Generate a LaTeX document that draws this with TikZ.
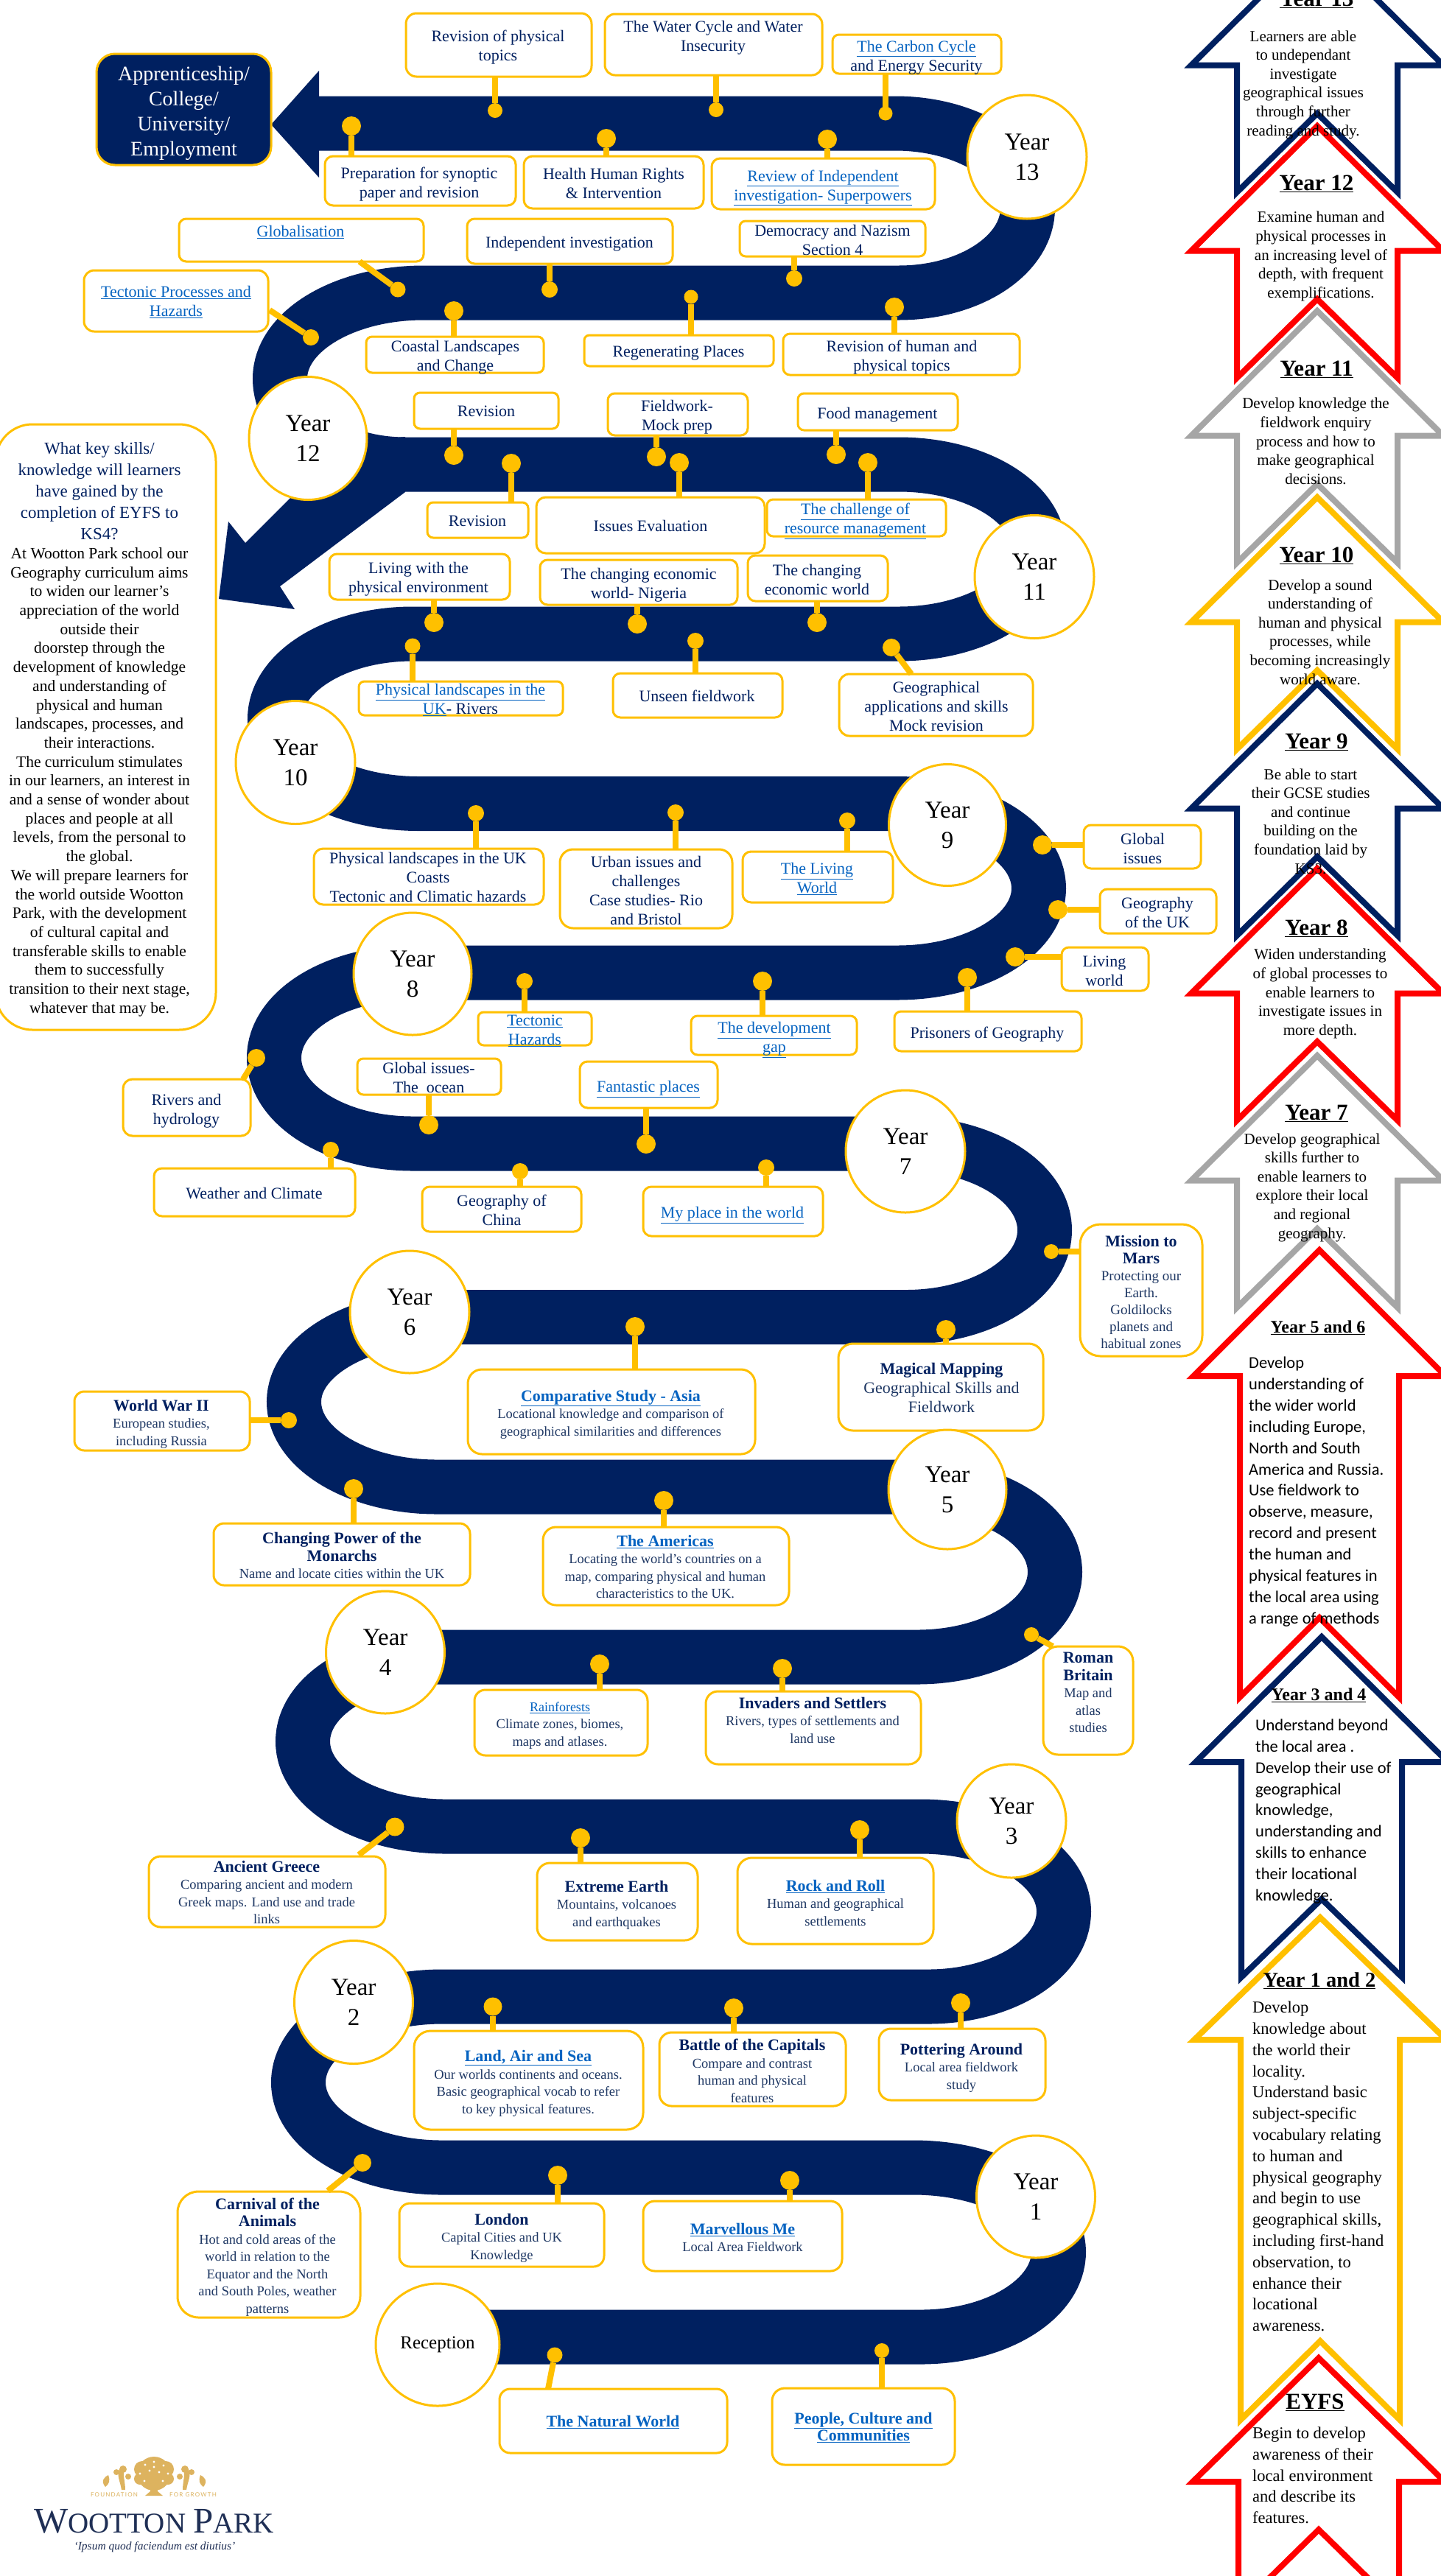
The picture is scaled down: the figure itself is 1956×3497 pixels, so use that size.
\documentclass[tikz,border=0pt]{standalone}
\usepackage{fontspec}
\setmainfont{Liberation Serif}
\newfontfamily\bodysans{Carlito}
\newfontfamily\logosans[LetterSpace=15]{Lato}
\usetikzlibrary{shapes.geometric,calc}
\definecolor{navy}{HTML}{002060}
\definecolor{gold}{HTML}{FFC000}
\definecolor{linkb}{HTML}{0563C1}
\definecolor{subc}{HTML}{1F3864}
\definecolor{grayarr}{HTML}{A6A6A6}
\definecolor{logog}{HTML}{DDB35F}
\definecolor{logon}{HTML}{1F2F55}
% fonts
\newcommand{\fA}{\fontsize{22}{26}\selectfont\color{navy}}
\newcommand{\fS}{\fontsize{18.5}{23.5}\selectfont\color{subc}}
\newcommand{\fM}{\fontsize{19}{23}\selectfont\color{subc}}
\newcommand{\hh}[1]{{\fontsize{22}{24}\selectfont\bfseries\color{navy}#1}}
\newcommand{\lk}[1]{{\color{linkb}\underline{#1}}}
\newcommand{\lkb}[1]{{\fontsize{22}{24}\selectfont\bfseries\color{linkb}\underline{#1}}}
\newcommand{\lks}[1]{{\fontsize{18}{23}\selectfont\color{linkb}\underline{#1}}}
\newcommand{\ttl}[1]{{\fontsize{23}{29}\selectfont\color{navy}#1}}
% text block placed inside a box node, offset from its centre
\newcommand{\tb}[4]{{#3\raisebox{\dimexpr #2pt-.35em}[0pt][0pt]{\makebox[0pt]{\hspace*{#1pt}\hspace*{#1pt}\begin{tabular}[c]{@{}c@{}}#4\end{tabular}}}}}
\newcommand{\bx}[9]{%
 \pgfmathsetmacro{\bxw}{#4-#2}\pgfmathsetmacro{\bxh}{#5-#3}%
 \pgfmathsetmacro{\bxr}{min(\bxw,\bxh)/6}%
 \pgfmathsetmacro{\bxcx}{(#2+#4)/2}\pgfmathsetmacro{\bxcy}{(#3+#5)/2}%
 \pgfmathsetmacro{\bxdx}{#6-\bxcx}\pgfmathsetmacro{\bxdy}{\bxcy-#7}%
 \node[boxn,minimum width=\bxw pt,minimum height=\bxh pt,rounded corners=\bxr pt] (#1) at (\bxcx,\bxcy) {\tb{\bxdx}{\bxdy}{#8}{#9}};}
\newcommand{\pn}[4]{\node[pinn,minimum size=#4pt] (#1) at (#2,#3) {};}
\newcommand{\yr}[6]{\node[yearn,minimum width=#4pt,minimum height=#5pt] (#1) at (#2,#3) {#6};}
% half-ellipse turn of the ribbon: start x,y / peak x,y / end x,y
\def\uT#1#2#3#4#5#6{ .. controls ({#1+.5523*(#3-#1)},#2) and (#3,{#4-.5523*(#4-#2)}) .. (#3,#4) .. controls (#3,{#4+.5523*(#6-#4)}) and ({#5+.5523*(#3-#5)},#6) .. (#5,#6)}
% up arrow outline: colour cx ya wing notch bottom halfstem
\newcommand{\upar}[7]{\draw[arrn,draw=#1] (#2,#3+6) -- (#2+171,#3+#4) -- (#2+#7,#3+#4) -- (#2+#7,#3+#6) -- (#2,#3+#5) -- (#2-#7,#3+#6) -- (#2-#7,#3+#4) -- (#2-171,#3+#4) -- cycle;}
\tikzset{
 boxn/.style={draw=gold,line width=3pt,fill=white,inner sep=0pt,outer sep=0pt},
 pinn/.style={circle,fill=gold,inner sep=0pt,outer sep=0pt},
 conn/.style={draw=gold,line width=8pt},
 yearn/.style={ellipse,draw=gold,line width=3pt,fill=white,inner sep=0pt,align=center,text=black,font=\fontsize{33}{41}\selectfont},
 band/.style={draw=navy,line width=74pt,line cap=butt},
 arrn/.style={line width=8pt,fill=none,miter limit=20},
 ahd/.style={inner sep=0pt,yshift=-2pt,text=black,font=\fontsize{31}{34}\selectfont\bfseries},
 ahs/.style={inner sep=0pt,yshift=-2pt,text=black,font=\fontsize{24}{27}\selectfont\bfseries},
 atx/.style={inner sep=0pt,yshift=-2pt,text=black,align=center,font=\fontsize{21}{25.6}\selectfont},
 als/.style={inner sep=0pt,yshift=-2pt,text=black,align=left,anchor=west,font=\bodysans\fontsize{22.5}{28.9}\selectfont},
 alt/.style={inner sep=0pt,yshift=-2pt,text=black,align=left,anchor=west,font=\fontsize{22.5}{28.8}\selectfont},
 logot/.style={inner sep=0pt,text=logon},
}
\begin{document}
\begin{tikzpicture}[x=1pt,y=-1pt]
\useasboundingbox (0,0) rectangle (1956,3497);
\clip (0,0) rectangle (1956,3497);
\fill[white] (0,0) rectangle (1956,3497);
% ---------- ribbon
\draw[band] (594,3172.5) -- (1250,3172.5) \uT{1250}{3172.5}{1437}{3057}{1240}{2942.5}
 -- (600,2942.5) \uT{600}{2942.5}{405}{2827}{600}{2710.5}
 -- (1260,2710.5) \uT{1260}{2710.5}{1444}{2595}{1250}{2479.5}
 -- (605,2479.5) \uT{605}{2479.5}{411}{2364}{600}{2249.5}
 -- (1245,2249.5) \uT{1245}{2249.5}{1432}{2134}{1245}{2018.5}
 -- (593,2018.5) \uT{593}{2018.5}{399}{1903}{600}{1788}
 -- (1230,1788) \uT{1230}{1788}{1418}{1670}{1230}{1552.5}
 -- (560,1552.5) \uT{560}{1552.5}{372}{1436}{560}{1320.5}
 -- (1218,1320.5) \uT{1218}{1320.5}{1410}{1206}{1218}{1091}
 -- (568,1091) \uT{568}{1091}{373}{976}{560}{860.5}
 -- (1220,860.5) \uT{1220}{860.5}{1410}{745.5}{1220}{630.5}
 -- (550,630.5) \uT{550}{630.5}{380}{514}{575}{397.5}
 -- (1220,397.5) \uT{1220}{397.5}{1395}{282.5}{1215}{167.5}
 -- (433,167.5);
\fill[navy] (433,96) -- (368,169) -- (433,241) -- cycle;
\fill[navy] (550,668) -- (380,796) -- (400,827) -- (297,813) -- (310,708) -- (333,737) -- (470,600) -- (550,593) -- cycle;
% ---------- pins
\pn{p1}{672}{150}{20}\pn{p2}{972}{149}{20}\pn{p3}{1202}{154}{19}
\pn{p4}{477}{171}{26}\pn{p5}{823}{188}{26}\pn{p6}{1123}{189}{26}
\pn{p7}{540}{393}{21}\pn{p8}{746}{393}{22}\pn{p9}{1078}{378}{22}
\pn{p10}{422}{458}{22}\pn{p11}{616}{422}{26}\pn{p12}{938}{403}{19}\pn{p13}{1214}{417}{26}
\pn{p14}{616}{618}{26}\pn{p15}{891}{620}{26}\pn{p16}{1135}{617}{26}
\pn{p17}{694}{629}{26}\pn{p18}{922}{628}{26}\pn{p19}{1178}{628}{26}
\pn{p20}{589}{845}{26}\pn{p21}{865}{847}{26}\pn{p22}{1109}{845}{26}
\pn{p23}{560}{877}{21}\pn{p24}{944}{870}{22}\pn{p25}{1210}{879}{24}
\pn{p26}{646}{1104}{22}\pn{p27}{917}{1103}{22}\pn{p28}{1150}{1114}{22}
\pn{p29}{1415}{1147}{26}\pn{p30}{1436}{1235}{26}\pn{p31}{1378}{1299}{26}
\pn{p32}{1313}{1327}{26}\pn{p33}{1035}{1332}{26}\pn{p34}{712}{1332}{22}
\pn{p35}{348}{1436}{24}\pn{p36}{449}{1561}{22}\pn{p37}{582}{1527}{26}\pn{p38}{877}{1553}{26}
\pn{p39}{706}{1590}{22}\pn{p40}{1040}{1585}{22}\pn{p41}{1427}{1699}{20}
\pn{p42}{862}{1801}{26}\pn{p43}{1284}{1805}{26}\pn{p44}{392}{1928}{22}
\pn{p45}{480}{2021}{26}\pn{p46}{901}{2037}{26}\pn{p47}{1400}{2219}{20}
\pn{p48}{814}{2259}{26}\pn{p49}{1062}{2265}{26}\pn{p50}{536}{2480}{25}
\pn{p51}{788}{2495}{26}\pn{p52}{1167}{2484}{26}\pn{p53}{669}{2724}{25}
\pn{p54}{996}{2726}{26}\pn{p55}{1304}{2719}{26}\pn{p56}{492}{2936}{24}
\pn{p57}{757}{2953}{26}\pn{p58}{1072}{2960}{26}\pn{p59}{753}{3197}{21}\pn{p60}{1197}{3191}{20}
% ---------- boxes
\node[boxn,fill=navy,minimum width=237pt,minimum height=151pt,rounded corners=25pt] (goal) at (249.5,148.5) {\tb{0}{-2}{\fontsize{28}{34}\selectfont\color{white}}{Apprenticeship/\\College/\\University/\\Employment}};
\bx{b1}{551}{18}{803}{104}{676}{62}{\fA}{Revision of physical\\topics}
\bx{b2}{821}{19}{1116}{102}{968}{49}{\fA}{The Water Cycle and Water\\Insecurity}
\bx{b3}{1130}{47}{1359}{100}{1244}{75.5}{\fA}{\lk{The Carbon Cycle}\\and Energy Security}
\bx{b4}{441}{212}{700}{279}{569}{247.5}{\fA}{Preparation for synoptic\\paper and revision}
\bx{b5}{711}{212}{955}{283}{833}{249}{\fA}{Health Human Rights\\\& Intervention}
\bx{b6}{966}{215}{1269}{284}{1117}{251.5}{\fA}{\lk{Review of Independent}\\\lk{investigation- Superpowers}}
\bx{b7}{243}{297}{575}{355}{408}{314}{\fA}{\lk{Globalisation}}
\bx{b8}{634}{297}{913}{358}{773}{329}{\fA}{Independent investigation}
\bx{b9}{1004}{300}{1256}{348}{1130}{325.5}{\fA}{Democracy and Nazism\\Section 4}
\bx{b10}{114}{367}{364}{450}{239}{409}{\fA}{\lk{Tectonic Processes and}\\\lk{Hazards}}
\bx{b11}{497}{457}{738}{506}{618}{482.5}{\fA}{Coastal Landscapes\\and Change}
\bx{b12}{793}{455}{1050}{497}{921}{477}{\fA}{Regenerating Places}
\bx{b13}{1063}{453}{1384}{509}{1224}{482.5}{\fA}{Revision of human and\\physical topics}
\bx{b14}{562}{533}{758}{582}{660}{558}{\fA}{Revision}
\bx{b15}{825}{534}{1015}{591}{919}{564}{\fA}{Fieldwork-\\Mock prep}
\bx{b16}{1083}{534}{1300}{584}{1191}{561}{\fA}{Food management}
\bx{b17}{580}{682}{717}{730}{648}{707}{\fA}{Revision}
\bx{b18}{728}{675}{1038}{751}{883}{714}{\fA}{Issues Evaluation}
\bx{b19}{1041}{678}{1284}{728}{1161}{704}{\fA}{\lk{The challenge of}\\\lk{resource management}}
\bx{b20}{447}{752}{692}{814}{568}{784}{\fA}{Living with the\\physical environment}
\bx{b21}{733}{760}{1001}{821}{867}{791.5}{\fA}{The changing economic\\world- Nigeria}
\bx{b22}{1015}{754}{1205}{816}{1109}{787}{\fA}{The changing\\economic world}
\bx{b23}{487}{925}{764}{971}{625}{949}{\fA}{\lk{Physical landscapes in the}\\\lk{UK}- Rivers}
\bx{b24}{832}{914}{1062}{974}{946}{945}{\fA}{Unseen fieldwork}
\bx{b25}{1139}{915}{1402}{999}{1271}{959}{\fA}{Geographical\\applications and skills\\Mock revision}
\bx{b26}{426}{1152}{738}{1228}{581}{1191}{\fA}{Physical landscapes in the UK\\Coasts\\Tectonic and Climatic hazards}
\bx{b27}{760}{1153}{994}{1260}{877}{1208.5}{\fA}{Urban issues and\\challenges\\Case studies- Rio\\and Bristol}
\bx{b28}{1008}{1156}{1212}{1225}{1109}{1192}{\fA}{\lk{The Living}\\\lk{World}}
\bx{b29}{1471}{1120}{1630}{1179}{1551}{1151.5}{\fA}{Global\\issues}
\bx{b30}{1493}{1207}{1651}{1267}{1571}{1238.5}{\fA}{Geography\\of the UK}
\bx{b31}{1441}{1286}{1559}{1345}{1499}{1318}{\fA}{Living\\world}
\bx{b32}{1214}{1373}{1468}{1427}{1340}{1402}{\fA}{Prisoners of Geography}
\bx{b33}{938}{1379}{1163}{1432}{1051}{1408}{\fA}{\lk{The development}\\\lk{gap}}
\bx{b34}{649}{1374}{803}{1419}{726}{1398}{\fA}{\lk{Tectonic}\\\lk{Hazards}}
\bx{b35}{167}{1465}{340}{1542}{253}{1505.5}{\fA}{Rivers and\\hydrology}
\bx{b36}{209}{1586}{482}{1651}{345}{1620}{\fA}{Weather and Climate}
\bx{b37}{485}{1437}{680}{1486}{582}{1463}{\fA}{Global issues-\\The\ \ ocean}
\bx{b38}{787}{1441}{974}{1504}{880}{1475}{\fA}{\lk{Fantastic places}}
\bx{b39}{573}{1611}{789}{1672}{681}{1643}{\fA}{Geography of\\China}
\bx{b40}{873}{1611}{1117}{1678}{994}{1646}{\fA}{\lk{My place in the world}}
\bx{b41}{1466}{1662}{1632}{1841}{1549}{1755}{\fM}{\hh{Mission to}\\\hh{Mars}\\Protecting our\\Earth.\\Goldilocks\\planets and\\habitual zones}
\bx{b42}{635}{1859}{1025}{1974}{829}{1919}{\fS}{\lkb{Comparative Study - Asia}\\Locational knowledge and comparison of\\geographical similarities and differences}
\bx{b43}{1138}{1824}{1416}{1942}{1278}{1884}{\fA}{\hh{Magical Mapping}\\{\color{subc}Geographical Skills and}\\{\color{subc}Fieldwork}}
\bx{b44}{101}{1889}{339}{1969}{219}{1932}{\fS}{\hh{World War II}\\European studies,\\including Russia}
\bx{b45}{290}{2068}{638}{2152}{464}{2112.5}{\fS}{\hh{Changing Power of the}\\\hh{Monarchs}\\Name and locate cities within the UK}
\bx{b46}{737}{2073}{1071}{2179}{903}{2127.5}{\fS}{\lkb{The Americas}\\Locating the world’s countries on a\\map, comparing physical and human\\characteristics to the UK.}
\bx{b47}{1416}{2235}{1538}{2382}{1477}{2298}{\fS}{\hh{Roman}\\\hh{Britain}\\Map and\\atlas\\studies}
\bx{b48}{644}{2294}{879}{2383}{760}{2340}{\fS}{\lks{Rainforests}\\Climate zones, biomes,\\maps and atlases.}
\bx{b49}{958}{2296}{1250}{2395}{1103}{2336}{\fS}{\hh{Invaders and Settlers}\\Rivers, types of settlements and\\land use}
\bx{b50}{202}{2520}{523}{2616}{362}{2569.5}{\fS}{\hh{Ancient Greece}\\Comparing ancient and modern\\Greek maps. Land use and trade\\links}
\bx{b51}{729}{2529}{947}{2634}{837}{2585}{\fS}{\hh{Extreme Earth}\\Mountains, volcanoes\\and earthquakes}
\bx{b52}{1001}{2522}{1267}{2639}{1134}{2584}{\fS}{\lkb{Rock and Roll}\\Human and geographical\\settlements}
\bx{b53}{562}{2757}{873}{2891}{717}{2827}{\fS}{\lkb{Land, Air and Sea}\\Our worlds continents and oceans.\\Basic geographical vocab to refer\\to key physical features.}
\bx{b54}{895}{2759}{1148}{2859}{1021}{2812}{\fS}{\hh{Battle of the Capitals}\\Compare and contrast\\human and physical\\features}
\bx{b55}{1193}{2754}{1419}{2851}{1305}{2806}{\fS}{\hh{Pottering Around}\\Local area fieldwork\\study}
\bx{b56}{241}{2975}{489}{3146}{363}{3063}{\fS}{\hh{Carnival of the}\\\hh{Animals}\\Hot and cold areas of the\\world in relation to the\\Equator and the North\\and South Poles, weather\\patterns}
\bx{b57}{542}{2991}{820}{3077}{681}{3037}{\fS}{\hh{London}\\Capital Cities and UK\\Knowledge}
\bx{b58}{873}{2988}{1143}{3083}{1008}{3038}{\fS}{\lkb{Marvellous Me}\\Local Area Fieldwork}
\bx{b59}{678}{3243}{987}{3330}{832}{3288}{\fS}{\lkb{The Natural World}}
\bx{b60}{1048}{3242}{1296}{3346}{1172}{3295}{\fS}{\lkb{People, Culture and}\\\lkb{Communities}}
% left text panel
\node[boxn,minimum width=299pt,minimum height=822pt,rounded corners=50pt,text=black] (panel) at (143.5,987) {\tb{-8.5}{-1.5}{\fontsize{21.5}{25.7}\selectfont}{\ttl{What key skills/}\\[3.3pt]\ttl{knowledge will learners}\\[3.3pt]\ttl{have gained by the}\\[3.3pt]\ttl{completion of EYFS to}\\[3.3pt]\ttl{KS4?}\\At Wootton Park school our\\Geography curriculum aims\\to widen our learner’s\\appreciation of the world\\outside their\\doorstep through the\\development of knowledge\\and understanding of\\physical and human\\landscapes, processes, and\\their interactions.\\The curriculum stimulates\\in our learners, an interest in\\and a sense of wonder about\\places and people at all\\levels, from the personal to\\the global.\\We will prepare learners for\\the world outside Wootton\\Park, with the development\\of cultural capital and\\transferable skills to enable\\them to successfully\\transition to their next stage,\\whatever that may be.}};
% ---------- connectors
\coordinate (c7) at (488,355);\coordinate (c10) at (366,421);\coordinate (c25) at (1237,915);
\coordinate (c35) at (330,1465);\coordinate (c47) at (1429,2235);\coordinate (c50) at (487,2518);
\coordinate (c56) at (445,2974);\coordinate (c59) at (744,3243);
\draw[conn] (p1) -- (p1 |- b1.south);\draw[conn] (p2) -- (p2 |- b2.south);\draw[conn] (p3) -- (p3 |- b3.south);
\draw[conn] (p4) -- (p4 |- b4.north);\draw[conn] (p5) -- (p5 |- b5.north);\draw[conn] (p6) -- (p6 |- b6.north);
\draw[conn] (p7) -- (c7);\draw[conn] (p8) -- (p8 |- b8.south);\draw[conn] (p9) -- (p9 |- b9.south);
\draw[conn] (p10) -- (c10);\draw[conn] (p11) -- (p11 |- b11.north);\draw[conn] (p12) -- (p12 |- b12.north);\draw[conn] (p13) -- (p13 |- b13.north);
\draw[conn] (p14) -- (p14 |- b14.south);\draw[conn] (p15) -- (p15 |- b15.south);\draw[conn] (p16) -- (p16 |- b16.south);
\draw[conn] (p17) -- (p17 |- b17.north);\draw[conn] (p18) -- (p18 |- b18.north);\draw[conn] (p19) -- (p19 |- b19.north);
\draw[conn] (p20) -- (p20 |- b20.south);\draw[conn] (p21) -- (p21 |- b21.south);\draw[conn] (p22) -- (p22 |- b22.south);
\draw[conn] (p23) -- (p23 |- b23.north);\draw[conn] (p24) -- (p24 |- b24.north);\draw[conn] (p25) -- (c25);
\draw[conn] (p26) -- (p26 |- b26.north);\draw[conn] (p27) -- (p27 |- b27.north);\draw[conn] (p28) -- (p28 |- b28.north);
\draw[conn] (p29) -- (p29 -| b29.west);\draw[conn] (p30) -- (p30 -| b30.west);\draw[conn] (p31) -- (p31 -| b31.west);
\draw[conn] (p32) -- (p32 |- b32.north);\draw[conn] (p33) -- (p33 |- b33.north);\draw[conn] (p34) -- (p34 |- b34.north);
\draw[conn] (p35) -- (c35);\draw[conn] (p36) -- (p36 |- b36.north);\draw[conn] (p37) -- (p37 |- b37.south);\draw[conn] (p38) -- (p38 |- b38.south);
\draw[conn] (p39) -- (p39 |- b39.north);\draw[conn] (p40) -- (p40 |- b40.north);\draw[conn] (p41) -- (p41 -| b41.west);
\draw[conn] (p42) -- (p42 |- b42.north);\draw[conn] (p43) -- (p43 |- b43.north);\draw[conn] (p44) -- (p44 -| b44.east);
\draw[conn] (p45) -- (p45 |- b45.north);\draw[conn] (p46) -- (p46 |- b46.north);\draw[conn] (p47) -- (c47);
\draw[conn] (p48) -- (p48 |- b48.north);\draw[conn] (p49) -- (p49 |- b49.north);\draw[conn] (p50) -- (c50);
\draw[conn] (p51) -- (p51 |- b51.north);\draw[conn] (p52) -- (p52 |- b52.north);\draw[conn] (p53) -- (p53 |- b53.north);
\draw[conn] (p54) -- (p54 |- b54.north);\draw[conn] (p55) -- (p55 |- b55.north);\draw[conn] (p56) -- (c56);
\draw[conn] (p57) -- (p57 |- b57.north);\draw[conn] (p58) -- (p58 |- b58.north);\draw[conn] (p59) -- (c59);\draw[conn] (p60) -- (p60 |- b60.north);
% ---------- year circles
\yr{y13}{1394}{213}{162}{168}{Year\\13}
\yr{y12}{418}{595}{160}{167}{Year\\12}
\yr{y11}{1404}{783}{162}{167}{Year\\11}
\yr{y10}{401}{1035}{162}{167}{Year\\10}
\yr{y9}{1286}{1120}{159}{165}{Year\\9}
\yr{y8}{560}{1322}{160}{166}{Year\\8}
\yr{y7}{1229}{1563}{162}{166}{Year\\7}
\yr{y6}{556}{1781}{162}{166}{Year\\6}
\yr{y5}{1286}{2022}{160}{162}{Year\\5}
\yr{y4}{523}{2243}{161}{166}{Year\\4}
\yr{y3}{1373}{2472}{148}{154}{Year\\3}
\yr{y2}{480}{2718}{161}{167}{Year\\2}
\yr{y1}{1406}{2982}{161}{166}{Year\\1}
\node[yearn,minimum width=168pt,minimum height=166pt,font=\fontsize{25}{30}\selectfont] (rec) at (594,3183) {Reception};
% ---------- right arrows
\upar{navy}{1788}{-87}{175.5}{241}{348}{109}
\upar{red}{1788}{165}{175.5}{241}{348}{109}
\upar{grayarr}{1788}{416}{175.5}{241}{348}{109}
\upar{gold}{1788}{669}{175.5}{241}{348}{109}
\upar{navy}{1788}{922}{175.5}{241}{348}{109}
\upar{red}{1788}{1173}{175.5}{241}{348}{109}
\upar{grayarr}{1788}{1427}{175.5}{241}{348}{109}
\upar{red}{1791}{1691}{177}{505}{613}{108}
\upar{navy}{1794}{2216}{176}{362}{468}{109}
\upar{gold}{1792}{2597}{172}{581}{688}{108}
\upar{red}{1790}{3195}{174}{239}{346}{109}
\node[ahd] (h13) at (1787,-3) {\underline{Year 13}};
\node[atx] (t13) at (1769,113) {Learners are able\\to undependant\\investigate\\geographical issues\\through further\\reading and study.};
\node[ahd] (h12) at (1787,247) {\underline{Year 12}};
\node[atx] (t12) at (1793,346) {Examine human and\\physical processes in\\an increasing level of\\depth, with frequent\\exemplifications.};
\node[ahd] (h11) at (1787,499) {\underline{Year 11}};
\node[atx] (t11) at (1786,597) {Develop knowledge the\\fieldwork enquiry\\process and how to\\make geographical\\decisions.};
\node[ahd] (h10) at (1787,752) {\underline{Year 10}};
\node[atx] (t10) at (1792,856) {Develop a sound\\understanding of\\human and physical\\processes, while\\becoming increasingly\\world aware.};
\node[ahd] (h9) at (1787,1005) {\underline{Year 9}};
\node[atx] (t9) at (1779,1113) {Be able to start\\their GCSE studies\\and continue\\building on the\\foundation laid by\\KS3.};
\node[ahd] (h8) at (1787,1258) {\underline{Year 8}};
\node[atx] (t8) at (1792,1347) {Widen understanding\\of global processes to\\enable learners to\\investigate issues in\\more depth.};
\node[ahd] (h7) at (1787,1509) {\underline{Year 7}};
\node[atx] (t7) at (1781,1610) {Develop geographical\\skills further to\\enable learners to\\explore their local\\and regional\\geography.};
\node[ahs] (h56) at (1789,1800) {\underline{Year 5 and 6}};
\node[als] (t56) at (1695,2023) {Develop\\understanding of\\the wider world\\including Europe,\\North and South\\America and Russia.\\Use fieldwork to\\observe, measure,\\record and present\\the human and\\physical features in\\the local area using\\a range of methods};
\node[ahs] (h34) at (1790,2299) {\underline{Year 3 and 4}};
\node[als] (t34) at (1704,2457) {Understand beyond\\the local area .\\Develop their use of\\geographical\\knowledge,\\understanding and\\skills to enhance\\their locational\\knowledge.};
\node[ahd,font=\fontsize{28.5}{32}\selectfont\bfseries] (h12b) at (1791,2687) {\underline{Year 1 and 2}};
\node[alt] (t12b) at (1700,2939) {Develop\\knowledge about\\the world their\\locality.\\Understand basic\\subject-specific\\vocabulary relating\\to human and\\physical geography\\and begin to use\\geographical skills,\\including first-hand\\observation, to\\enhance their\\locational\\awareness.};
\node[ahd] (hey) at (1785,3259) {\underline{EYFS}};
\node[alt] (tey) at (1700,3358.5) {Begin to develop\\awareness of their\\local environment\\and describe its\\features.};
% ---------- logo
\fill[logog] (209,3358) circle (23pt) (193,3352) circle (11pt) (225,3352) circle (11pt) (209,3345) circle (10pt) (190,3365) circle (8pt) (228,3365) circle (8pt);
\foreach \a/\b in {197/3346,209/3342,222/3347,190/3358,203/3354,216/3356,228/3358,196/3368,221/3368,209/3349}{\fill[white] (\a,\b) circle (1.6pt);}
\fill[logog] (205,3368) -- (213,3368) -- (214,3382) -- (221,3388) -- (197,3388) -- (204,3382) -- cycle;
\fill[logog] (165,3380) .. controls (163,3368) and (158,3360) .. (162,3352) -- (168,3352) .. controls (167,3362) and (170,3370) .. (170,3380) -- cycle;
\fill[logog] (158,3356) circle (4pt) (167,3352) circle (5pt) (174,3362) circle (4pt);
\fill[logog] (253,3380) .. controls (255,3368) and (260,3360) .. (256,3352) -- (250,3352) .. controls (251,3362) and (248,3370) .. (248,3380) -- cycle;
\fill[logog] (260,3356) circle (4pt) (251,3352) circle (5pt) (244,3362) circle (4pt);
\fill[logog] (143,3376) .. controls (136,3368) and (142,3362) .. (147,3360) .. controls (150,3368) and (148,3372) .. (143,3376) -- cycle;
\fill[logog] (276,3376) .. controls (283,3368) and (277,3362) .. (272,3360) .. controls (269,3368) and (271,3372) .. (276,3376) -- cycle;
\node[inner sep=0pt,text=logog,font=\logosans\fontsize{8}{9}\selectfont] (lf) at (155,3387) {FOUNDATION};
\node[inner sep=0pt,text=logog,font=\logosans\fontsize{8}{9}\selectfont] (lg) at (262,3387) {FOR GROWTH};
\node[logot] (lw) at (209,3423) {{\fontsize{49}{50}\selectfont W}{\fontsize{39}{50}\selectfont OOTTON }{\fontsize{49}{50}\selectfont P}{\fontsize{39}{50}\selectfont ARK}};
\node[logot,font=\itshape\fontsize{15.5}{18}\selectfont] (lm) at (210,3458) {‘Ipsum quod faciendum est diutius’};
\end{tikzpicture}
\end{document}
